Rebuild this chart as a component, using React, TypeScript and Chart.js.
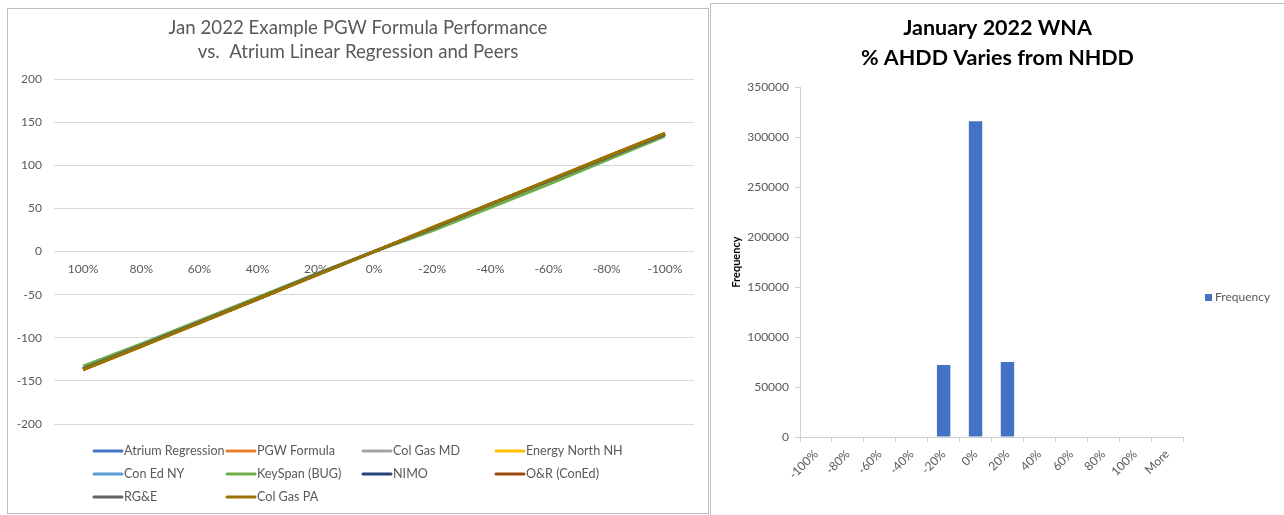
import React, { useEffect, useRef } from "react";
import { Chart, registerables } from "chart.js";
Chart.register(...registerables);

const FONT = "Lato, 'Open Sans', sans-serif";
const GRAY_TEXT = "#595959";

// ---------- Left chart data ----------
const lineCategories = ["100%", "80%", "60%", "40%", "20%", "0%", "-20%", "-40%", "-60%", "-80%", "-100%"];
const seriesNames = [
  "Atrium Regression", "PGW Formula", "Col Gas MD", "Energy North NH",
  "Con Ed NY", "KeySpan (BUG)", "NIMO", "O&R (ConEd)", "RG&E", "Col Gas PA",
];
const seriesColors = [
  "#4472C4", "#ED7D31", "#A5A5A5", "#FFC000",
  "#5B9BD5", "#70AD47", "#264478", "#9E480E", "#636363", "#997300",
];
const atriumRegression = [-136, -109, -82, -54, -27, 0, 27, 54, 82, 109, 136];
const pgwFormula = [-137, -110, -82, -55, -27, 0, 27, 55, 82, 110, 137];
const colGasMD = [-136, -109, -82, -55, -27, 0, 27, 55, 82, 109, 136];
const energyNorthNH = [-137, -110, -82, -55, -27, 0, 27, 55, 82, 110, 137];
const conEdNY = [-136, -109, -82, -54, -27, 0, 27, 54, 82, 109, 136];
const keySpanBUG = [-133, -107, -80, -53, -26, 0, 24, 51, 78, 106, 134];
const nimo = [-136, -109, -82, -55, -27, 0, 27, 55, 82, 109, 136];
const oAndRConEd = [-137, -110, -82, -55, -27, 0, 27, 55, 82, 110, 137];
const rgAndE = [-136, -109, -82, -55, -27, 0, 27, 55, 82, 109, 136];
const colGasPA = [-137, -110, -83, -55, -28, 0, 28, 55, 83, 110, 137];
const seriesValues = [
  atriumRegression, pgwFormula, colGasMD, energyNorthNH, conEdNY,
  keySpanBUG, nimo, oAndRConEd, rgAndE, colGasPA,
];
const lineTitle = ["Jan 2022 Example PGW Formula Performance", "vs.  Atrium Linear Regression and Peers"];

// ---------- Right chart data ----------
const binLabels = ["-100%", "-80%", "-60%", "-40%", "-20%", "0%", "20%", "40%", "60%", "80%", "100%", "More"];
const frequency = [0, 0, 0, 0, 72000, 316000, 75000, 0, 0, 0, 0, 0];
const histTitle = ["January 2022 WNA", "% AHDD Varies from NHDD"];

const lineLegendPlugin = {
  id: "gridLegend",
  afterDraw(chart: any) {
    const ctx = chart.ctx;
    const colX = [85, 218, 354, 487];
    const rowY = [442, 465, 488];
    ctx.save();
    ctx.font = `12.6px ${FONT}`;
    ctx.textBaseline = "middle";
    ctx.textAlign = "left";
    chart.data.datasets.forEach((ds: any, i: number) => {
      const x = colX[i % 4];
      const y = rowY[Math.floor(i / 4)];
      ctx.strokeStyle = ds.borderColor;
      ctx.lineWidth = 3;
      ctx.lineCap = "round";
      ctx.beginPath();
      ctx.moveTo(x + 1, y);
      ctx.lineTo(x + 29, y);
      ctx.stroke();
      ctx.fillStyle = GRAY_TEXT;
      ctx.fillText(ds.label, x + 31, y);
    });
    ctx.restore();
  },
};

const histLegendPlugin = {
  id: "sideLegend",
  afterDraw(chart: any) {
    const ctx = chart.ctx;
    const ds = chart.data.datasets[0];
    ctx.save();
    ctx.fillStyle = ds.backgroundColor;
    ctx.fillRect(494, 290, 7, 7);
    ctx.font = `12px ${FONT}`;
    ctx.textBaseline = "middle";
    ctx.fillStyle = GRAY_TEXT;
    ctx.fillText(ds.label, 504, 293.5);
    ctx.restore();
  },
};

function LineChart() {
  const ref = useRef<HTMLCanvasElement>(null);
  useEffect(() => {
    const chart = new Chart(ref.current!, {
      type: "line",
      data: {
        labels: lineCategories,
        datasets: seriesNames.map((name, i) => ({
          label: name,
          data: seriesValues[i],
          borderColor: seriesColors[i],
          backgroundColor: seriesColors[i],
          borderWidth: 3,
          pointRadius: 0,
          fill: false,
          order: seriesNames.length - 1 - i,
        })),
      },
      options: {
        responsive: false,
        animation: false,
        layout: { padding: { left: 8, right: 8, top: 0, bottom: 89 } },
        plugins: {
          legend: { display: false },
          tooltip: { enabled: false },
          title: {
            display: true,
            text: lineTitle,
            color: GRAY_TEXT,
            font: { family: FONT, size: 18.67, weight: "normal", lineHeight: 1.29 },
            padding: { top: 7, bottom: 15 },
          },
        },
        scales: {
          x: {
            position: { y: 0 } as any,
            offset: true,
            afterFit: (s: any) => { s.height = 0; },
            grid: { display: false, offset: true },
            border: { display: false },
            ticks: { color: GRAY_TEXT, font: { family: FONT, size: 12 }, padding: 2, maxRotation: 0, autoSkip: false },
          },
          y: {
            min: -200,
            max: 200,
            afterFit: (s: any) => { s.width = 38; },
            grid: { color: "#d9d9d9", drawTicks: false, lineWidth: 1 },
            border: { display: false },
            ticks: { stepSize: 50, color: GRAY_TEXT, font: { family: FONT, size: 12 }, padding: 12 },
          },
          rightGap: {
            type: "linear",
            position: "right",
            display: true,
            afterFit: (s: any) => { s.width = 6; },
            grid: { display: false },
            border: { display: false },
            ticks: { display: false },
          },
        },
      },
      plugins: [lineLegendPlugin],
    });
    return () => chart.destroy();
  }, []);
  return <canvas ref={ref} width={700} height={504} style={{ display: "block" }} />;
}

function HistChart() {
  const ref = useRef<HTMLCanvasElement>(null);
  useEffect(() => {
    const chart = new Chart(ref.current!, {
      type: "bar",
      data: {
        labels: binLabels,
        datasets: [{
          label: "Frequency",
          data: frequency,
          backgroundColor: "#4472C4",
          categoryPercentage: 0.42,
          barPercentage: 1,
        }],
      },
      options: {
        responsive: false,
        animation: false,
        layout: { padding: { left: 0, right: 0, top: 0, bottom: 0 } },
        plugins: {
          legend: { display: false },
          tooltip: { enabled: false },
          title: {
            display: true,
            text: histTitle,
            color: "#000000",
            font: { family: FONT, size: 21.5, weight: "bold", lineHeight: 1.4 },
            padding: { top: 9, bottom: 14 },
          },
        },
        scales: {
          x: {
            afterFit: (s: any) => { s.height = 78; },
            grid: { display: true, drawOnChartArea: false, tickLength: 5, offset: true, color: "#d0d0d0" },
            border: { color: "#d0d0d0" },
            ticks: { color: GRAY_TEXT, font: { family: FONT, size: 12 }, minRotation: 45, maxRotation: 45, autoSkip: false, padding: 5 },
          },
          y: {
            min: 0,
            max: 350000,
            afterFit: (s: any) => { s.width = 89; },
            grid: { display: true, drawOnChartArea: false, tickLength: 5, color: "#d0d0d0" },
            border: { color: "#d0d0d0" },
            title: {
              display: true,
              text: "Frequency",
              color: "#000000",
              font: { family: FONT, size: 11, weight: "bold", lineHeight: 1.2 },
              padding: { top: 19, bottom: 0 },
            },
            ticks: {
              stepSize: 50000,
              color: GRAY_TEXT,
              font: { family: FONT, size: 12 },
              padding: 6,
              callback: (v: any) => String(v),
            },
          },
          legendSpace: {
            type: "linear",
            position: "right",
            display: true,
            afterFit: (s: any) => { s.width = 101; },
            grid: { display: false },
            border: { display: false },
            ticks: { display: false },
          },
        },
      },
      plugins: [histLegendPlugin],
    });
    return () => chart.destroy();
  }, []);
  return <canvas ref={ref} width={573} height={511} style={{ display: "block" }} />;
}

export default function App() {
  return (
    <div style={{ position: "absolute", left: 0, top: 0, width: 1284, height: 515, background: "#ffffff", overflow: "hidden" }}>
      <div style={{ position: "absolute", left: 7, top: 8, width: 700, height: 504, border: "1px solid #bfbfbf", background: "#fff" }}>
        <LineChart />
      </div>
      <div style={{ position: "absolute", left: 710, top: 3, width: 580, height: 520, border: "1px solid #bfbfbf", background: "#fff" }}>
        <HistChart />
      </div>
    </div>
  );
}
